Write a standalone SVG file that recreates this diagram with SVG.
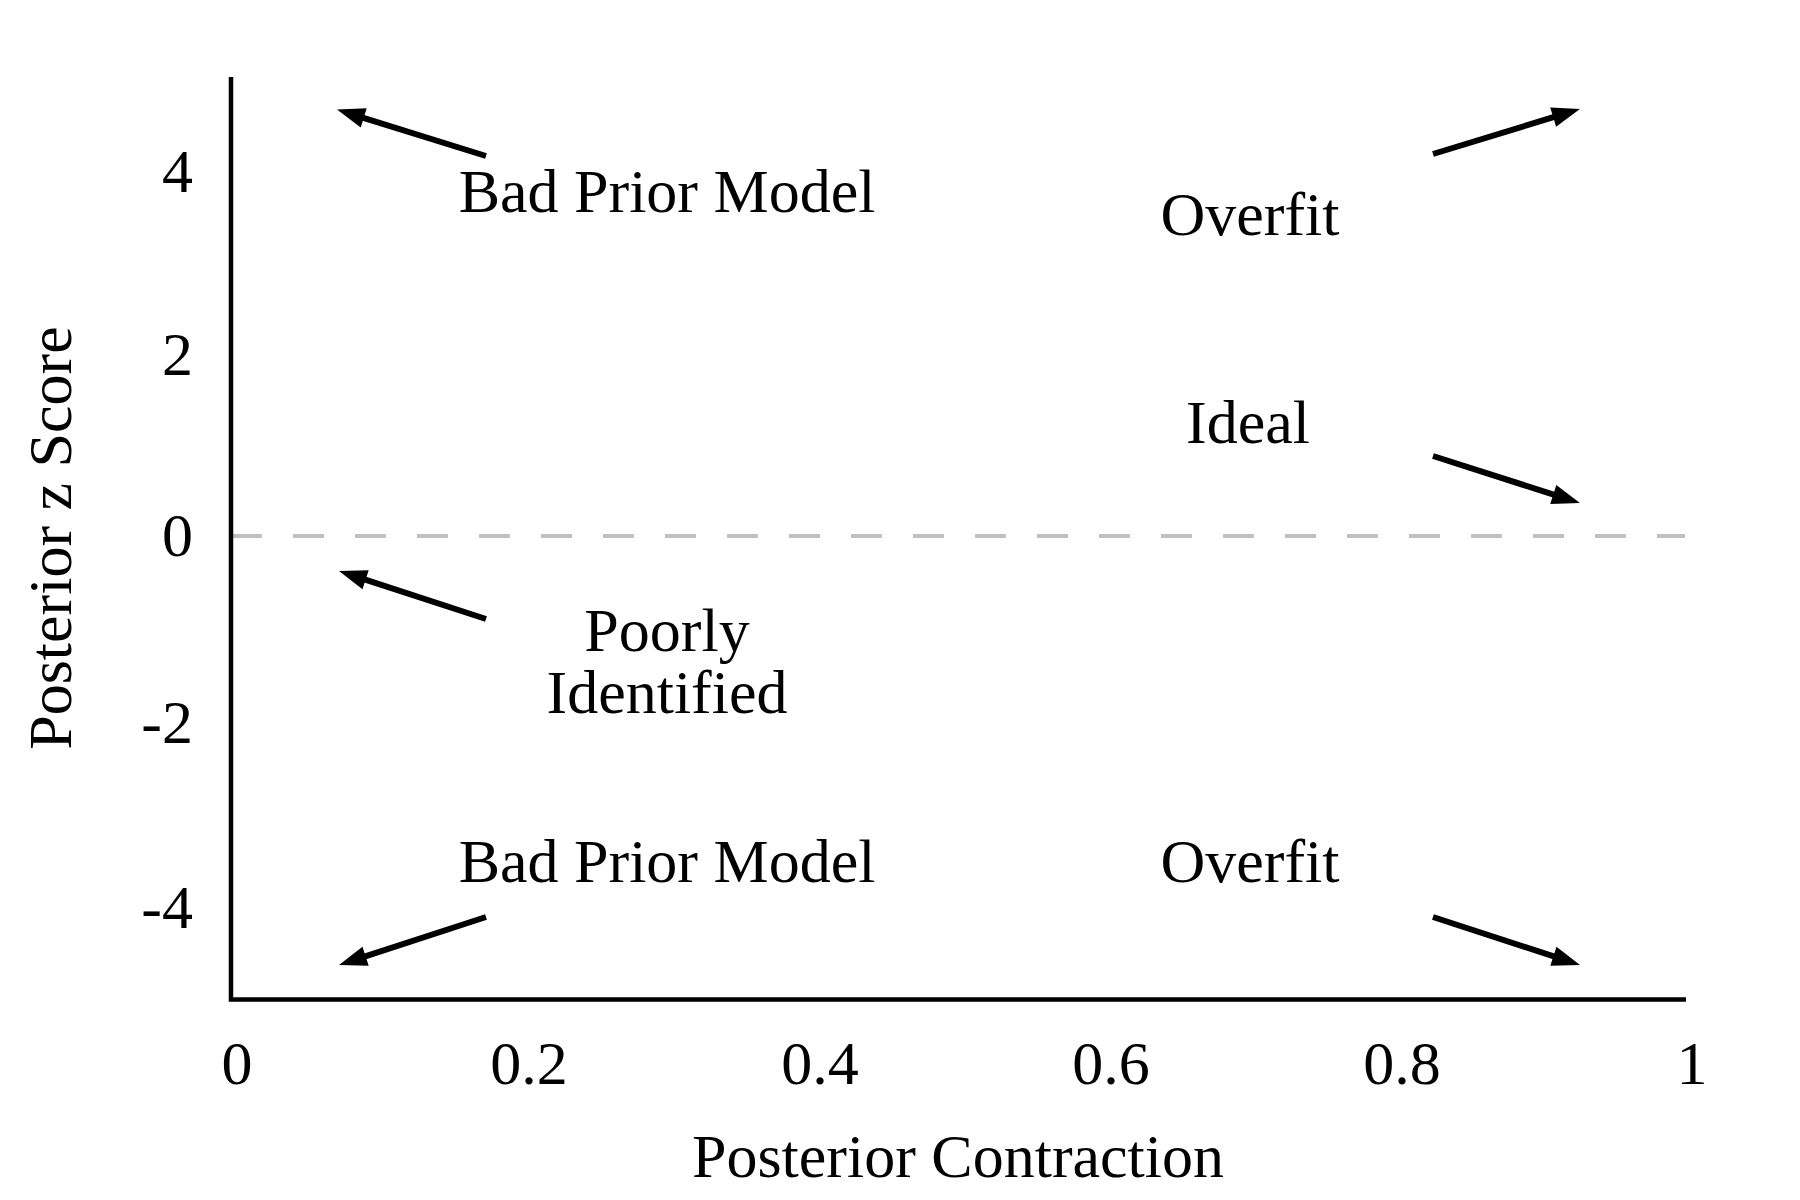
<svg xmlns="http://www.w3.org/2000/svg" width="1800" height="1200" viewBox="0 0 1800 1200">
<style>
text{font-family:"Liberation Serif","Times New Roman",serif;font-size:62px;fill:#000}
.c{text-anchor:middle}
.r{text-anchor:end}
.ax{stroke:#000;stroke-width:4.5;fill:none}
.arr{stroke:#000;stroke-width:6;fill:none;marker-end:url(#ah)}
</style>
<defs>
<marker id="ah" markerUnits="userSpaceOnUse" viewBox="-3 -12 32 24" markerWidth="32" markerHeight="24" refX="0" refY="0" orient="auto" overflow="visible">
<path d="M-2,-10 L26,0 L-2,10 z" fill="#000"/>
</marker>
</defs>
<rect width="1800" height="1200" fill="#fff"/>
<g id="axes">
<line x1="231" y1="536" x2="1685" y2="536" stroke="#c0c0c0" stroke-width="4" stroke-dasharray="31 31"/>
<path class="ax" d="M231,77 L231,999.5 L1686,999.5"/>
<text class="c" x="237" y="1084">0</text>
<text class="c" x="529" y="1084">0.2</text>
<text class="c" x="820" y="1084">0.4</text>
<text class="c" x="1111" y="1084">0.6</text>
<text class="c" x="1402" y="1084">0.8</text>
<text class="c" x="1692" y="1084">1</text>
<text class="r" x="193" y="192">4</text>
<text class="r" x="193" y="375">2</text>
<text class="r" x="193" y="556">0</text>
<text class="r" x="193" y="743">-2</text>
<text class="r" x="193" y="928">-4</text>
<text class="c" x="958" y="1177">Posterior Contraction</text>
<text class="c" transform="translate(71,538) rotate(-90)">Posterior z Score</text>
</g>
<g id="label-bad-prior-top"><text class="c" x="667" y="212">Bad Prior Model</text></g>
<g id="label-overfit-top"><text class="c" x="1250" y="235">Overfit</text></g>
<g id="label-ideal"><text class="c" x="1248" y="443">Ideal</text></g>
<g id="label-poorly"><text class="c" x="667" y="651">Poorly</text><text class="c" x="667" y="713">Identified</text></g>
<g id="label-bad-prior-bottom"><text class="c" x="667" y="882">Bad Prior Model</text></g>
<g id="label-overfit-bottom"><text class="c" x="1250" y="882">Overfit</text></g>
<g id="connectors">
<line class="arr" x1="486" y1="156" x2="361.8" y2="117.3"/>
<line class="arr" x1="1433" y1="154" x2="1555.1" y2="116.6"/>
<line class="arr" x1="1433" y1="456" x2="1555.2" y2="495.1"/>
<line class="arr" x1="486" y1="619" x2="363.7" y2="579.1"/>
<line class="arr" x1="486" y1="917" x2="363.7" y2="956.9"/>
<line class="arr" x1="1433" y1="917" x2="1555.3" y2="956.9"/>
</g>
</svg>
